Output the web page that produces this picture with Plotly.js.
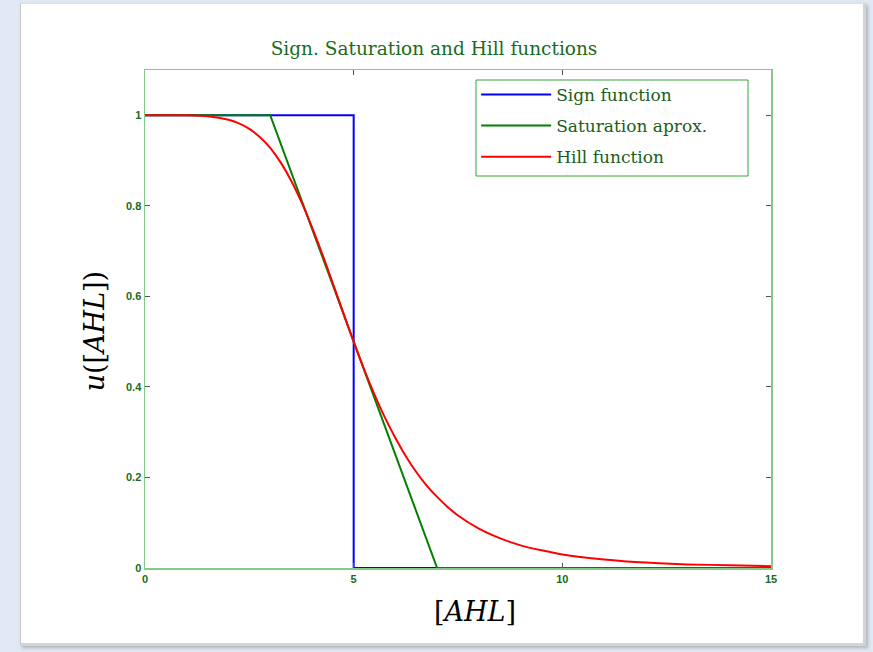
<!DOCTYPE html>
<html>
<head>
<meta charset="utf-8">
<script src="https://cdn.plot.ly/plotly-3.0.1.min.js"></script>
<style>
  html, body { margin:0; padding:0; width:873px; height:652px; overflow:hidden; background:#dfe8f3; }
  #card { position:absolute; left:20px; top:3px; width:842px; height:639px; background:#ffffff;
          border-right:3px solid #d4d4d4; border-bottom:3px solid #d4d4d4; border-left:1px solid #c8c8c8; border-top:1px solid #e0e0e0;
          box-shadow: 2px 2px 3px rgba(120,120,120,0.45); }
  #chart { position:absolute; left:0; top:0; width:873px; height:652px; }
</style>
</head>
<body>
<div id="card"></div>
<div id="chart"></div>
<script>
// Sign function (step at AHL = 5)
const signX = [0, 5, 5, 15];
const signY = [1, 1, 0, 0];
// Saturation approximation
const satX = [0, 3, 7, 15];
const satY = [1, 1, 0, 0];
// Hill function
const hillX = [0, 0.5, 1, 1.5, 2, 2.25, 2.5, 2.75, 3, 3.25, 3.5, 3.75, 4, 4.25, 4.5, 4.75, 5, 5.25, 5.5, 5.75, 6, 6.25, 6.5, 6.75, 7, 7.25, 7.5, 8, 8.5, 9, 9.5, 10, 11, 12, 13, 14, 15];
const hillY = [1, 1, 1, 0.998, 0.99, 0.982, 0.97, 0.952, 0.928, 0.896, 0.856, 0.808, 0.753, 0.693, 0.629, 0.564, 0.5, 0.439, 0.383, 0.332, 0.287, 0.247, 0.212, 0.182, 0.157, 0.135, 0.116, 0.087, 0.066, 0.05, 0.039, 0.03, 0.019, 0.012, 0.008, 0.006, 0.004];
const xTicks = [0, 5, 10, 15];
const yTicks = [0, 0.2, 0.4, 0.6, 0.8, 1];
const seriesNames = ['Sign function', 'Saturation aprox.', 'Hill function'];

const traces = [
  {x: signX, y: signY, mode: 'lines', name: seriesNames[0], legendgroup: 'a', line: {color: '#0000ff', width: 2}},
  {x: satX, y: satY, mode: 'lines', name: seriesNames[1], legendgroup: 'b', line: {color: '#008000', width: 2}},
  {x: hillX, y: hillY, mode: 'lines', name: seriesNames[2], legendgroup: 'c', line: {color: '#ff0000', width: 2, shape: 'spline', smoothing: 0.8}}
];

const axisCommon = {
  showgrid: false, zeroline: false,
  showline: true, linecolor: '#86c986', linewidth: 1.5, mirror: 'ticks',
  ticks: 'inside', ticklen: 5, tickcolor: '#555555', tickwidth: 1,
  tickfont: {family: 'Arial, Liberation Sans, sans-serif', size: 11, color: '#1a6a1a', weight: 'bold'}
};

const serif = 'DejaVu Serif, Liberation Serif, serif';

const layout = {
  width: 873, height: 652,
  paper_bgcolor: 'rgba(0,0,0,0)', plot_bgcolor: 'rgba(0,0,0,0)',
  margin: {l: 145, r: 102, t: 70, b: 84},
  title: {
    text: 'Sign. Saturation and Hill functions',
    x: 0.4617, xref: 'paper', xanchor: 'center',
    y: 0.926, yref: 'container', yanchor: 'middle',
    font: {family: serif, size: 18.5, color: '#1a6b1a'}
  },
  xaxis: Object.assign({}, axisCommon, {
    range: [0, 15], tickvals: xTicks, ticktext: xTicks.map(String)
  }),
  yaxis: Object.assign({}, axisCommon, {
    range: [0, 1.1], tickvals: yTicks, ticktext: yTicks.map(String)
  }),
  shapes: [
    {type: 'rect', xref: 'paper', yref: 'paper', x0: 0.5288, x1: 0.9633, y0: 0.7871, y1: 0.9799,
     line: {color: '#3aa03a', width: 1}, fillcolor: '#ffffff', layer: 'below'}
  ],
  annotations: [
    {text: '[<i>AHL</i>]', xref: 'paper', yref: 'paper', x: 0.527, y: -0.088, xanchor: 'center', yanchor: 'middle',
     showarrow: false, font: {family: serif, size: 27, color: '#000000'}},
    {text: '<i>u</i>([<i>AHL</i>])', xref: 'paper', yref: 'paper', x: -0.08, y: 0.477, xanchor: 'center', yanchor: 'middle',
     textangle: -90, showarrow: false, font: {family: serif, size: 27, color: '#000000'}}
  ],
  showlegend: true,
  legend: {
    x: 0.529, y: 0.986, xanchor: 'left', yanchor: 'top',
    bgcolor: 'rgba(0,0,0,0)', borderwidth: 0,
    font: {family: serif, size: 17, color: '#1a5e1a'},
    itemwidth: 70, tracegroupgap: 6
  }
};

Plotly.newPlot('chart', traces, layout, {displayModeBar: false, staticPlot: true});
</script>
</body>
</html>
